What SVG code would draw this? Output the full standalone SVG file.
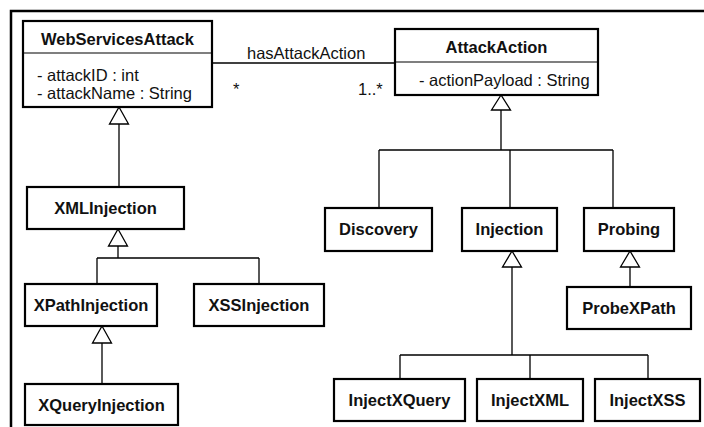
<svg xmlns="http://www.w3.org/2000/svg" width="704" height="427" viewBox="0 0 704 427">
<style>
.box{fill:#fff;stroke:#000;stroke-width:2.2}
.sep{stroke:#000;stroke-width:1.2}
.t{font-family:"Liberation Sans",Arial,sans-serif;font-size:16.5px;font-weight:bold;text-anchor:middle;fill:#111}
.a{font-family:"Liberation Sans",Arial,sans-serif;font-size:16.5px;fill:#111}
.ln{fill:none;stroke:#000;stroke-width:1.3}
.tri{fill:#fff;stroke:#000;stroke-width:1.3}
</style>
<rect width="704" height="427" fill="#fff"/>
<path d="M11 427 V11 H704" fill="none" stroke="#000" stroke-width="2.5"/>
<g id="connectors">
<line class="ln" x1="212" y1="63" x2="395" y2="63"/>
<text class="a" x="247" y="59">hasAttackAction</text>
<text class="a" x="233" y="95">*</text>
<text class="a" x="358" y="95">1..*</text>
<path class="ln" d="M119 124 V187"/>
<polygon class="tri" points="119,107 109.5,124 128.5,124"/>
<path class="ln" d="M118 246 V258 M97 258 H259 M97 258 V284 M259 258 V284"/>
<polygon class="tri" points="118,229 108.5,246 127.5,246"/>
<path class="ln" d="M102 343 V384"/>
<polygon class="tri" points="102,326 92.5,343 111.5,343"/>
<path class="ln" d="M501 110 V150 M379 150 H613 M379 150 V208 M510 150 V208 M613 150 V208"/>
<polygon class="tri" points="501,95 491.5,110 510.5,110"/>
<path class="ln" d="M512 267 V355 M400 355 H648 M400 355 V379 M530 355 V379 M648 355 V379"/>
<polygon class="tri" points="512,251 502.5,267 521.5,267"/>
<path class="ln" d="M630 267 V287"/>
<polygon class="tri" points="630,251 620.5,267 639.5,267"/>
</g>
<g id="WebServicesAttack">
<rect class="box" x="23" y="21" width="189" height="86"/>
<line class="sep" x1="23" y1="53" x2="212" y2="53"/>
<text class="t" x="117.5" y="45">WebServicesAttack</text>
<text class="a" x="37" y="81">- attackID : int</text>
<text class="a" x="37" y="99">- attackName : String</text>
</g>
<g id="AttackAction">
<rect class="box" x="395" y="29" width="203" height="66"/>
<line class="sep" x1="395" y1="62" x2="598" y2="62"/>
<text class="t" x="496.5" y="53">AttackAction</text>
<text class="a" x="419" y="86">- actionPayload : String</text>
</g>
<g id="XMLInjection">
<rect class="box" x="27" y="187" width="157" height="42"/>
<text class="t" x="105.5" y="214">XMLInjection</text>
</g>
<g id="XPathInjection">
<rect class="box" x="25" y="284" width="132" height="42"/>
<text class="t" x="91" y="311">XPathInjection</text>
</g>
<g id="XSSInjection">
<rect class="box" x="194" y="284" width="130" height="42"/>
<text class="t" x="259" y="311">XSSInjection</text>
</g>
<g id="XQueryInjection">
<rect class="box" x="25" y="384" width="153" height="41"/>
<text class="t" x="101.5" y="411">XQueryInjection</text>
</g>
<g id="Discovery">
<rect class="box" x="325" y="208" width="107" height="43"/>
<text class="t" x="378.5" y="235">Discovery</text>
</g>
<g id="Injection">
<rect class="box" x="462" y="208" width="95" height="43"/>
<text class="t" x="509.5" y="235">Injection</text>
</g>
<g id="Probing">
<rect class="box" x="584" y="208" width="90" height="43"/>
<text class="t" x="629" y="235">Probing</text>
</g>
<g id="ProbeXPath">
<rect class="box" x="567" y="287" width="124" height="42"/>
<text class="t" x="629" y="314">ProbeXPath</text>
</g>
<g id="InjectXQuery">
<rect class="box" x="334" y="379" width="131" height="42"/>
<text class="t" x="399.5" y="406">InjectXQuery</text>
</g>
<g id="InjectXML">
<rect class="box" x="477" y="379" width="106" height="42"/>
<text class="t" x="530" y="406">InjectXML</text>
</g>
<g id="InjectXSS">
<rect class="box" x="595" y="379" width="105" height="42"/>
<text class="t" x="647.5" y="406">InjectXSS</text>
</g>
</svg>
